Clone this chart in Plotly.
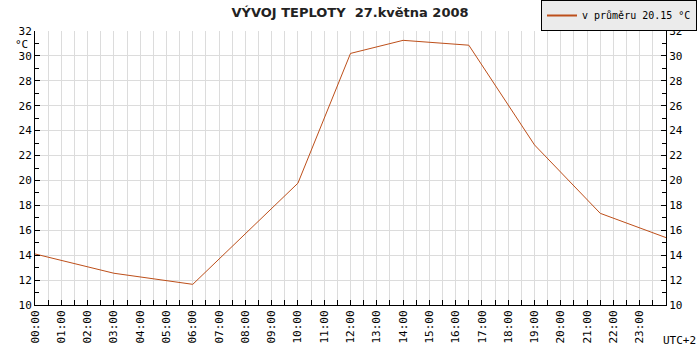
import plotly.graph_objects as go

# data
hours = [0, 3, 6, 10, 12, 14, 16.5, 19, 21.5, 24]
temps = [14.1, 12.55, 11.66, 19.78, 30.2, 31.25, 30.86, 22.85, 17.36, 15.41]
series_name = "v průměru 20.15 °C"
hour_labels = ["%02d:00" % h for h in range(24)]
y_ticks = list(range(10, 33, 2))

title = "VÝVOJ TEPLOTY \u00a027.května 2008"

W, H = 700, 350
ML, MR, MT, MB = 35, 34, 31, 45
pw = W - ML - MR
ph = H - MT - MB

line_color = "#bd4f1a"
grid_color = "#dcdcdc"
mono = "DejaVu Sans Mono"

x_tickvals = []
x_ticktext = []
for i, lab in enumerate(hour_labels):
    x_tickvals += [i, i + 0.5]
    x_ticktext += [lab, ""]

fig = go.Figure()
fig.add_trace(go.Scatter(x=hours, y=temps, mode="lines", name=series_name,
                         showlegend=False, legendgroup="t",
                         line=dict(color=line_color, width=1)))
# legend entry (thicker key line, as in the reference)
fig.add_trace(go.Scatter(x=[None], y=[None], mode="lines", name=series_name,
                         legendgroup="t", hoverinfo="skip",
                         line=dict(color=line_color, width=2)))
fig.add_trace(go.Scatter(x=hours, y=temps, mode="lines", yaxis="y2",
                         line=dict(color="rgba(0,0,0,0)", width=0),
                         showlegend=False, hoverinfo="skip"))

yax = dict(range=[10, 32], tickvals=y_ticks, ticks="inside", ticklen=5,
           tickcolor="black", showline=True, linecolor="black", linewidth=1,
           showgrid=True, gridcolor=grid_color, gridwidth=1, zeroline=False,
           automargin=False,
           tickfont=dict(family=mono, size=11, color="black"),
           minor=dict(dtick=1, tick0=0, ticks="inside", ticklen=4,
                      tickcolor="black", showgrid=False))

fig.update_layout(
    width=W, height=H,
    margin=dict(l=ML, r=MR, t=MT, b=MB, pad=0, autoexpand=False),
    paper_bgcolor="white", plot_bgcolor="white",
    title=dict(text="<b>" + title + "</b>", x=0.5, xanchor="center",
               xref="container", yref="container",
               y=1 - 12 / H, yanchor="middle",
               font=dict(family="DejaVu Sans", size=13, color="#222")),
    xaxis=dict(range=[0, 24], tickvals=x_tickvals, ticktext=x_ticktext,
               tickangle=-90, ticks="inside", ticklen=5, tickcolor="black",
               showline=True, linecolor="black", linewidth=1, automargin=False,
               showgrid=True, gridcolor=grid_color, gridwidth=1, zeroline=False,
               tickfont=dict(family=mono, size=11, color="black")),
    yaxis=yax,
    yaxis2=dict(yax, overlaying="y", side="right", showgrid=False),
    showlegend=True,
    legend=dict(xref="container", yref="container",
                x=697 / W, xanchor="right", y=1.0, yanchor="top",
                bgcolor="#ebebeb", bordercolor="black", borderwidth=1,
                font=dict(family=mono, size=10, color="black"),
                itemwidth=30, tracegroupgap=0),
    annotations=[
        dict(text="°C", xref="paper", yref="paper", x=(21 - ML) / pw,
             y=(H - MB - 44) / ph, xanchor="center", yanchor="middle",
             showarrow=False, font=dict(family=mono, size=11, color="black")),
        dict(text="UTC+2", xref="paper", yref="paper", x=(698 - ML) / pw,
             y=(H - MB - 340) / ph, xanchor="right", yanchor="middle",
             showarrow=False, font=dict(family=mono, size=11, color="black")),
    ],
)

fig.write_html("out.html",
               config={"displayModeBar": False},
               post_script="document.body.style.margin='0';document.body.style.overflow='hidden';")
